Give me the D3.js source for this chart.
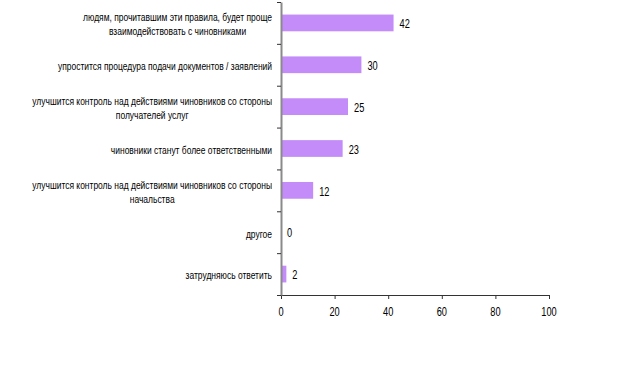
<!DOCTYPE html>
<html>
<head>
<meta charset="utf-8">
<script src="https://cdn.jsdelivr.net/npm/d3@7"></script>
<style>
  body { margin: 0; background: #fff; }
  text { font-family: "Liberation Sans", Arial, sans-serif; fill: #000; }
</style>
</head>
<body>
<div id="plot"></div>
<script>
// chart data
var categories = [
  ["людям, прочитавшим эти правила, будет проще", "взаимодействовать с чиновниками"],
  ["упростится процедура подачи документов / заявлений"],
  ["улучшится контроль над действиями чиновников со стороны", "получателей услуг"],
  ["чиновники станут более ответственными"],
  ["улучшится контроль над действиями чиновников со стороны", "начальства"],
  ["другое"],
  ["затрудняюсь ответить"]
];
var values = [42, 30, 25, 23, 12, 0, 2];
var xTicks = [0, 20, 40, 60, 80, 100];

var margin = {top: 2, right: 71, bottom: 78, left: 281},
    width = 620 - margin.left - margin.right,
    height = 373 - margin.top - margin.bottom;

// narrow look of the original font
var squeeze = 0.77;

var svg = d3.select("#plot")
  .append("svg")
  .attr("width", 620)
  .attr("height", 373)
  .append("g")
  .attr("transform", "translate(" + margin.left + "," + margin.top + ")");

var x = d3.scaleLinear()
  .domain([0, 100])
  .range([0, width]);

var y = d3.scaleBand()
  .domain(d3.range(categories.length))
  .range([0, height])
  .paddingInner(0.6)
  .paddingOuter(0.3);

// category boundary scale for the left ticks
var yb = d3.scaleLinear()
  .domain([0, categories.length])
  .range([0, height]);

function narrowText(parent, tx, ty, s, size, anchor) {
  return parent.append("text")
    .attr("transform", "translate(" + tx + "," + ty + ") scale(" + squeeze + ",1)")
    .attr("font-size", size)
    .attr("text-anchor", anchor || "start")
    .attr("dy", "0.35em")
    .text(s);
}

// bars
svg.selectAll("rect.bar")
  .data(values)
  .enter()
  .append("rect")
  .attr("class", "bar")
  .attr("x", x(0))
  .attr("y", function(d, i) { return y(i); })
  .attr("width", function(d) { return x(d) - x(0); })
  .attr("height", y.bandwidth())
  .attr("fill", "#c38cf8");

// value labels
values.forEach(function(d, i) {
  narrowText(svg, x(d) + 6, y(i) + y.bandwidth() / 2 + 1, d, "12px");
});

// X axis
var xAxis = svg.append("g")
  .attr("transform", "translate(0," + height + ")")
  .call(d3.axisBottom(x).tickValues(xTicks).tickSize(4).tickFormat(""));
xAxis.select(".domain").attr("stroke", "#333");
xAxis.selectAll(".tick line").attr("stroke", "#333");
xTicks.forEach(function(t) {
  narrowText(svg, x(t), height + 17, t, "12px", "middle");
});

// Y axis (ticks at category boundaries)
var yAxis = svg.append("g")
  .call(d3.axisLeft(yb).ticks(categories.length).tickSize(4).tickFormat("").tickSizeOuter(0));
yAxis.select(".domain").attr("stroke", "#8a8a8a").attr("stroke-width", 2);
yAxis.selectAll(".tick line").attr("stroke", "#333");

// category labels: block right aligned, lines centred in block
var labelRight = -9;
var lineH = 14;
categories.forEach(function(lines, i) {
  var cy = y(i) + y.bandwidth() / 2 + 1.5;
  var g = svg.append("g");
  var texts = lines.map(function(s, k) {
    return narrowText(g, 0, cy + (k - (lines.length - 1) / 2) * lineH, s, "11px", "middle");
  });
  var maxW = squeeze * d3.max(texts, function(t) { return t.node().getComputedTextLength(); });
  texts.forEach(function(t, k) {
    t.attr("transform", "translate(" + (labelRight - maxW / 2) + "," +
      (cy + (k - (lines.length - 1) / 2) * lineH) + ") scale(" + squeeze + ",1)");
  });
});
</script>
</body>
</html>
